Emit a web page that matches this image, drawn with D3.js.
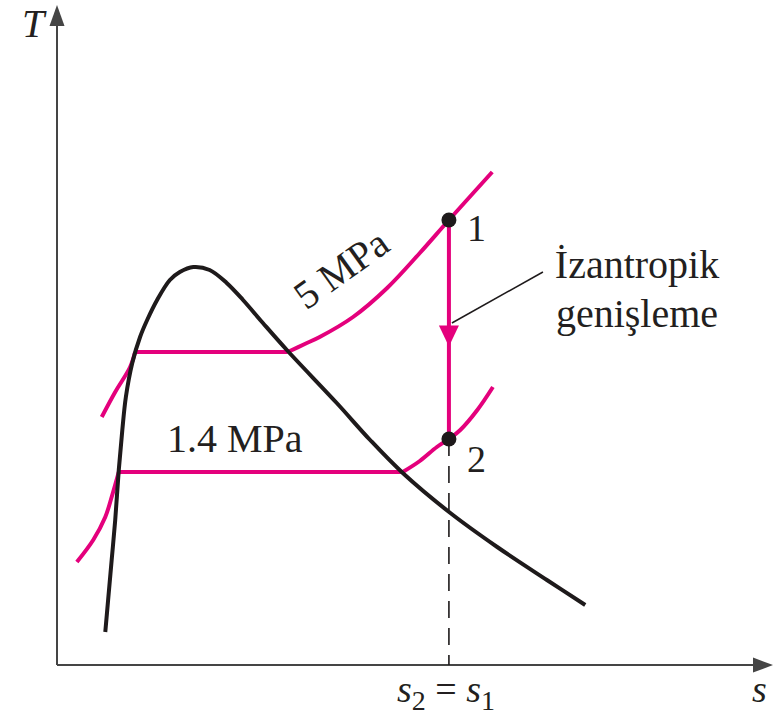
<!DOCTYPE html>
<html>
<head>
<meta charset="utf-8">
<script src="https://cdn.jsdelivr.net/npm/d3@7"></script>
<style>
  body { margin: 0; background: #fff; }
  text { font-family: "Liberation Serif", "DejaVu Serif", serif; fill: #231f20; }
</style>
</head>
<body>
<script>
// saturation dome, [s, T] from left foot over the peak to right foot
const dome = [
  [0.68, 33], [0.72, 65], [0.77, 105], [0.82, 145], [0.87, 195], [0.92, 235],
  [0.97, 268], [1.06, 302], [1.17, 328], [1.27, 345], [1.41, 365], [1.59, 385],
  [1.73, 393], [1.92, 398], [2.15, 395], [2.39, 382], [2.62, 365], [2.90, 342],
  [3.25, 314], [3.94, 262], [4.41, 225], [4.87, 192], [5.54, 152], [6.20, 118],
  [6.90, 85], [7.44, 60]
]

// isobars: compressed liquid part, saturation temperature, superheated part
const isobarNames = ["5 MPa", "1.4 MPa"]
const tSat = [313, 193]
const liquid5 = [[0.63, 248], [0.82, 273], [1.03, 298], [1.10, 313]]
const vapor5 = [[3.25, 313], [3.49, 321], [3.70, 328], [4.17, 348], [4.65, 377], [5.11, 412], [5.52, 445], [6.13, 493]]
const liquid14 = [[0.28, 103], [0.51, 125], [0.68, 148], [0.77, 168], [0.87, 193]]
const vapor14 = [[4.87, 193], [5.11, 204], [5.35, 218], [5.52, 226], [5.68, 235], [5.92, 255], [6.14, 278]]

// states of the isentropic expansion
const stateNames = ["1", "2"]
const stateS = [5.52, 5.52]
const stateT = [445, 226]

const width = 780
const height = 719
const magenta = "#e4007c"
const ink = "#1e1a1b"

const wrapper = d3.select("body")
  .append("svg")
    .attr("width", width)
    .attr("height", height)

const xScale = d3.scaleLinear()
  .domain([0, 10])
  .range([57, 767])

const yScale = d3.scaleLinear()
  .domain([0, 660])
  .range([665, 5])

const line = d3.line()
  .x(d => xScale(d[0]))
  .y(d => yScale(d[1]))
  .curve(d3.curveCatmullRom.alpha(0.5))

// axes
const x0 = xScale(0), y0 = yScale(0)
const axes = wrapper.append("g")
  .attr("stroke", "#454545")
  .attr("fill", "#454545")
axes.append("line")
  .attr("x1", x0).attr("y1", y0)
  .attr("x2", 760).attr("y2", y0)
  .attr("stroke-width", 2)
axes.append("path")
  .attr("d", `M773,${y0} L753,${y0 - 7.5} L753,${y0 + 7.5} Z`)
  .attr("stroke", "none")
axes.append("line")
  .attr("x1", x0).attr("y1", y0)
  .attr("x2", x0).attr("y2", 20)
  .attr("stroke-width", 2)
axes.append("path")
  .attr("d", `M${x0},5 L${x0 - 7.5},26 L${x0 + 7.5},26 Z`)
  .attr("stroke", "none")

wrapper.append("text")
  .attr("x", 22).attr("y", 37)
  .style("font-size", "40px")
  .style("font-style", "italic")
  .text("T")

wrapper.append("text")
  .attr("x", 752).attr("y", 702)
  .style("font-size", "38px")
  .style("font-style", "italic")
  .text("s")

// dashed line from state 2 down to the s axis
wrapper.append("line")
  .attr("x1", xScale(stateS[1])).attr("y1", yScale(stateT[1]))
  .attr("x2", xScale(stateS[1])).attr("y2", y0)
  .attr("stroke", ink)
  .attr("stroke-width", 1.6)
  .attr("stroke-dasharray", "17,10")

const sLabel = wrapper.append("text")
  .attr("x", 397).attr("y", 702)
  .style("font-size", "38px")
sLabel.append("tspan").style("font-style", "italic").text("s")
sLabel.append("tspan").attr("dy", 8).style("font-size", "28px").text("2")
sLabel.append("tspan").attr("dy", -8).text(" = ")
sLabel.append("tspan").style("font-style", "italic").text("s")
sLabel.append("tspan").attr("dy", 8).style("font-size", "28px").text("1")

// isobars
const isobars = [
  { liquid: liquid5, vapor: vapor5, t: tSat[0] },
  { liquid: liquid14, vapor: vapor14, t: tSat[1] },
]
const isoG = wrapper.append("g")
  .attr("fill", "none")
  .attr("stroke", magenta)
  .attr("stroke-width", 4)
isobars.forEach(iso => {
  isoG.append("path").attr("d", line(iso.liquid))
  isoG.append("path").attr("d", line(iso.vapor))
  isoG.append("line")
    .attr("x1", xScale(iso.liquid[iso.liquid.length - 1][0]))
    .attr("x2", xScale(iso.vapor[0][0]))
    .attr("y1", yScale(iso.t))
    .attr("y2", yScale(iso.t))
})

// dome
wrapper.append("path")
  .attr("d", line(dome))
  .attr("fill", "none")
  .attr("stroke", ink)
  .attr("stroke-width", 4)

// process 1 -> 2
const px = xScale(stateS[0])
const p1y = yScale(stateT[0])
const p2y = yScale(stateT[1])
wrapper.append("line")
  .attr("x1", px).attr("y1", p1y)
  .attr("x2", px).attr("y2", p2y)
  .attr("stroke", magenta)
  .attr("stroke-width", 4)
const midY = (p1y + p2y) / 2
wrapper.append("path")
  .attr("d", `M${px},${midY + 17} L${px - 10},${midY - 4} L${px + 10},${midY - 4} Z`)
  .attr("fill", magenta)

wrapper.selectAll(".state")
  .data(stateNames)
  .enter()
  .append("circle")
    .attr("class", "state")
    .attr("cx", (d, i) => xScale(stateS[i]))
    .attr("cy", (d, i) => yScale(stateT[i]))
    .attr("r", 7.5)
    .attr("fill", ink)

wrapper.selectAll(".stateLabel")
  .data(stateNames)
  .enter()
  .append("text")
    .attr("class", "stateLabel")
    .attr("x", (d, i) => xScale(stateS[i]) + 18)
    .attr("y", (d, i) => yScale(stateT[i]) + (i == 0 ? 21 : 33))
    .style("font-size", "38px")
    .text(d => d)

// leader to the process label
wrapper.append("line")
  .attr("x1", px + 94).attr("y1", p1y + 52)
  .attr("x2", px + 3).attr("y2", p1y + 103)
  .attr("stroke", ink)
  .attr("stroke-width", 1.5)

const note = wrapper.append("text")
  .attr("x", 637)
  .attr("text-anchor", "middle")
  .style("font-size", "40px")
note.append("tspan").attr("x", 637).attr("y", 278).text("İzantropik")
note.append("tspan").attr("x", 637).attr("y", 327).text("genişleme")

// isobar labels
wrapper.append("text")
  .attr("transform", "translate(349,280) rotate(-35.7)")
  .attr("text-anchor", "middle")
  .style("font-size", "40px")
  .text(isobarNames[0])

wrapper.append("text")
  .attr("x", 167).attr("y", 452)
  .style("font-size", "40px")
  .text(isobarNames[1])
</script>
</body>
</html>
